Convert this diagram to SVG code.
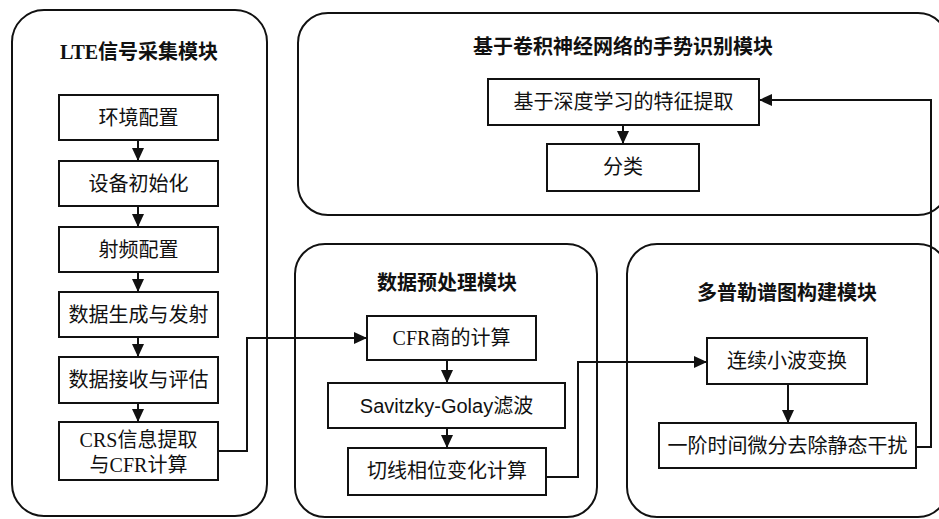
<svg xmlns="http://www.w3.org/2000/svg" width="939" height="519" viewBox="0 0 939 519">
<style>
.mod{fill:none;stroke:#111;stroke-width:2}
.box{fill:#fff;stroke:#111;stroke-width:2}
.t{font-family:"Liberation Serif","Noto Sans CJK SC",serif;font-size:20px;fill:#111;text-anchor:middle;dominant-baseline:central}
.ts{font-family:"Liberation Sans","Noto Sans CJK SC",sans-serif;font-size:20px;fill:#111;text-anchor:middle;dominant-baseline:central}
.h{font-weight:bold}
.c{fill:none;stroke:#111;stroke-width:2}
</style>
<defs>
<marker id="ah" markerUnits="userSpaceOnUse" markerWidth="14" markerHeight="14" viewBox="0 0 14 14" refX="13" refY="7" orient="auto">
<path d="M0,1 L13,7 L0,13 Z" fill="#111"/>
</marker>
</defs>
<rect width="939" height="519" fill="#fff"/>

<g id="mod-lte">
<rect class="mod" x="12" y="10" width="255" height="506" rx="32" ry="32"/>
<text class="t h" x="139" y="52">LTE信号采集模块</text>
</g>
<g id="mod-cnn">
<rect class="mod" x="298" y="13" width="650" height="202" rx="30" ry="30"/>
<text class="t h" x="623" y="47">基于卷积神经网络的手势识别模块</text>
</g>
<g id="mod-pre">
<rect class="mod" x="295" y="244" width="302" height="273" rx="30" ry="30"/>
<text class="t h" x="447" y="283">数据预处理模块</text>
</g>
<g id="mod-dop">
<rect class="mod" x="627" y="244" width="321" height="273" rx="30" ry="30"/>
<text class="t h" x="787" y="293">多普勒谱图构建模块</text>
</g>

<g id="n1"><rect class="box" x="59" y="95" width="159" height="45"/><text class="t" x="138.5" y="118">环境配置</text></g>
<g id="n2"><rect class="box" x="59" y="161" width="159" height="45"/><text class="t" x="138.5" y="184">设备初始化</text></g>
<g id="n3"><rect class="box" x="59" y="227" width="159" height="45"/><text class="t" x="138.5" y="250">射频配置</text></g>
<g id="n4"><rect class="box" x="59" y="292" width="159" height="45"/><text class="t" x="138.5" y="315">数据生成与发射</text></g>
<g id="n5"><rect class="box" x="59" y="357" width="159" height="46"/><text class="t" x="138.5" y="380">数据接收与评估</text></g>
<g id="n6"><rect class="box" x="59" y="422" width="159" height="58"/><text class="t" x="138.5" y="440">CRS信息提取</text><text class="t" x="138.5" y="465">与CFR计算</text></g>

<g id="n7"><rect class="box" x="488" y="79" width="271" height="46"/><text class="t" x="623.5" y="102">基于深度学习的特征提取</text></g>
<g id="n8"><rect class="box" x="547" y="144" width="152" height="47"/><text class="t" x="623" y="167">分类</text></g>

<g id="n9"><rect class="box" x="367" y="316" width="169" height="44"/><text class="t" x="451.5" y="338">CFR商的计算</text></g>
<g id="n10"><rect class="box" x="328" y="383" width="237" height="45"/><text class="ts" x="446.5" y="406">Savitzky-Golay滤波</text></g>
<g id="n11"><rect class="box" x="348" y="448" width="198" height="47"/><text class="t" x="447" y="471">切线相位变化计算</text></g>

<g id="n12"><rect class="box" x="707" y="338" width="160" height="46"/><text class="t" x="787" y="361">连续小波变换</text></g>
<g id="n13"><rect class="box" x="659" y="423" width="257" height="45"/><text class="t" x="787.5" y="446">一阶时间微分去除静态干扰</text></g>

<g id="connectors">
<line class="c" x1="138" y1="140" x2="138" y2="161" marker-end="url(#ah)"/>
<line class="c" x1="138" y1="206" x2="138" y2="227" marker-end="url(#ah)"/>
<line class="c" x1="138" y1="272" x2="138" y2="292" marker-end="url(#ah)"/>
<line class="c" x1="138" y1="337" x2="138" y2="357" marker-end="url(#ah)"/>
<line class="c" x1="138" y1="403" x2="138" y2="422" marker-end="url(#ah)"/>
<polyline class="c" points="218,451 247,451 247,338 367,338" marker-end="url(#ah)"/>
<line class="c" x1="447" y1="360" x2="447" y2="383" marker-end="url(#ah)"/>
<line class="c" x1="447" y1="428" x2="447" y2="448" marker-end="url(#ah)"/>
<polyline class="c" points="546,477 578,477 578,362 707,362" marker-end="url(#ah)"/>
<line class="c" x1="788" y1="384" x2="788" y2="423" marker-end="url(#ah)"/>
<polyline class="c" points="916,447 931,447 931,100 759,100" marker-end="url(#ah)"/>
<line class="c" x1="623" y1="125" x2="623" y2="144" marker-end="url(#ah)"/>
</g>
</svg>
